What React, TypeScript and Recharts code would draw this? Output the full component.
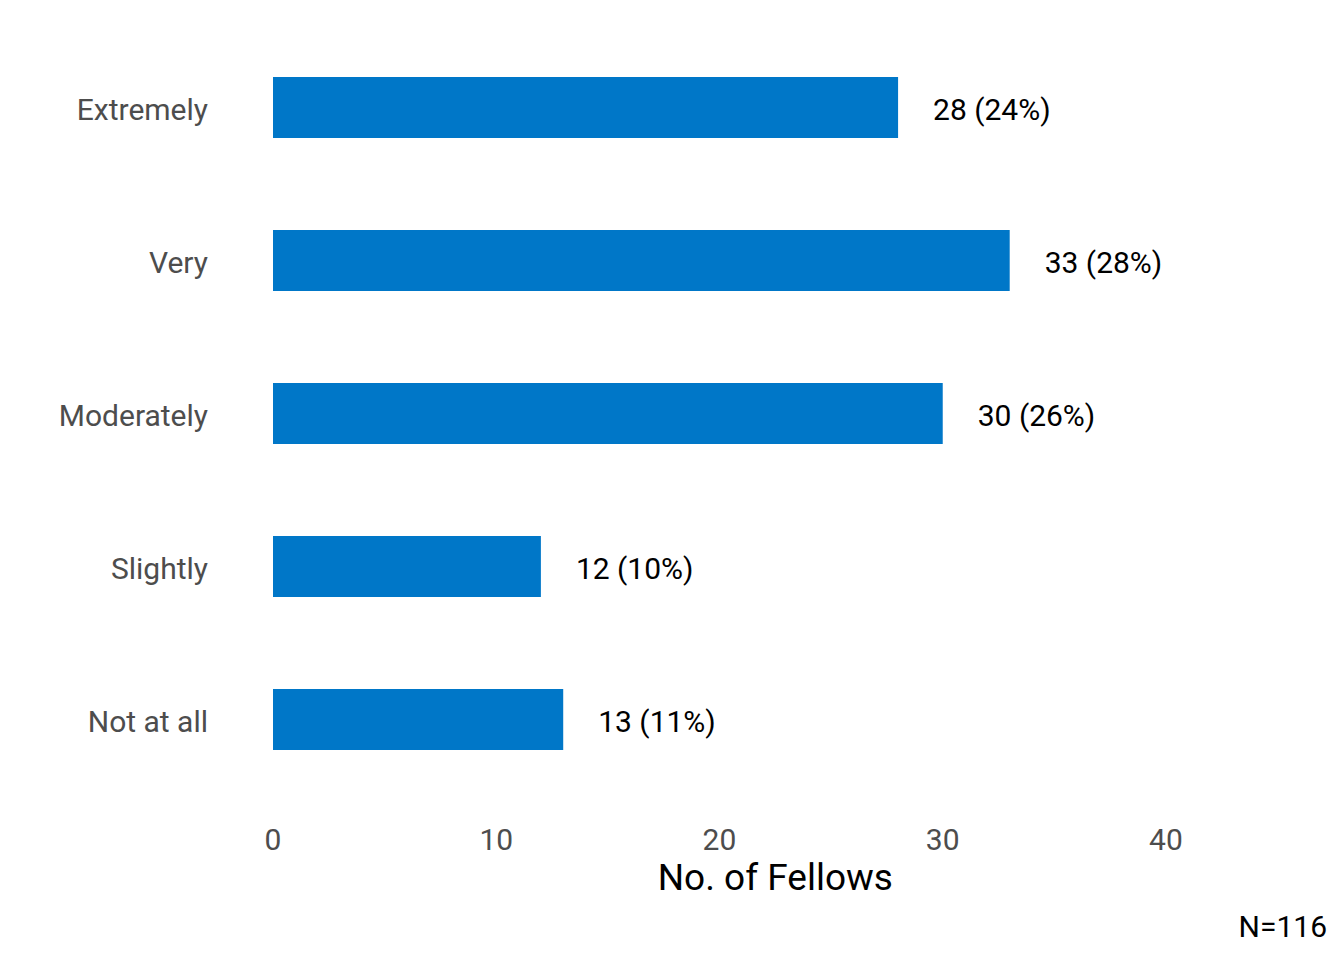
import { BarChart, Bar, XAxis, YAxis, LabelList } from 'recharts';

const categories = ['Extremely', 'Very', 'Moderately', 'Slightly', 'Not at all'];
const counts = [28, 33, 30, 12, 13];
const percents = [24, 28, 26, 10, 11];
const xTicks = [0, 10, 20, 30, 40];

const data = categories.map((name, i) => ({
  name,
  value: counts[i],
  label: `${counts[i]} (${percents[i]}%)`,
}));

const FONT = 'Roboto, "Noto Sans", sans-serif';

export default function App() {
  return (
    <div style={{ position: 'absolute', left: 0, top: 0, width: 1344, height: 960, background: '#fff', fontFamily: FONT }}>
      <BarChart
        width={1344}
        height={960}
        data={data}
        layout="vertical"
        margin={{ top: 31, right: 66.4, bottom: 54, left: 0 }}
      >
        <XAxis
          type="number"
          domain={[0, 45]}
          ticks={xTicks}
          axisLine={false}
          tickLine={false}
          tickSize={0}
          tickMargin={33}
          height={110}
          tick={{ fill: '#4D4D4D', fontSize: 30, fontFamily: FONT }}
          label={{ value: 'No. of Fellows', position: 'insideBottom', offset: 16, fill: '#000', fontSize: 37, fontFamily: FONT }}
        />
        <YAxis
          type="category"
          dataKey="name"
          width={273}
          axisLine={false}
          tickLine={false}
          tickSize={0}
          tickMargin={65}
          tick={{ fill: '#4D4D4D', fontSize: 30, fontFamily: FONT, dy: 2 }}
        />
        <Bar dataKey="value" fill="#0077C8" barSize={61} isAnimationActive={false}>
          <LabelList dataKey="label" position="right" offset={35} fill="#000" fontSize={30} fontFamily={FONT} dy={2} />
        </Bar>
      </BarChart>
      <div style={{ position: 'absolute', right: 17, top: 909, fontSize: 30, color: '#000', lineHeight: '36px' }}>N=116</div>
    </div>
  );
}
